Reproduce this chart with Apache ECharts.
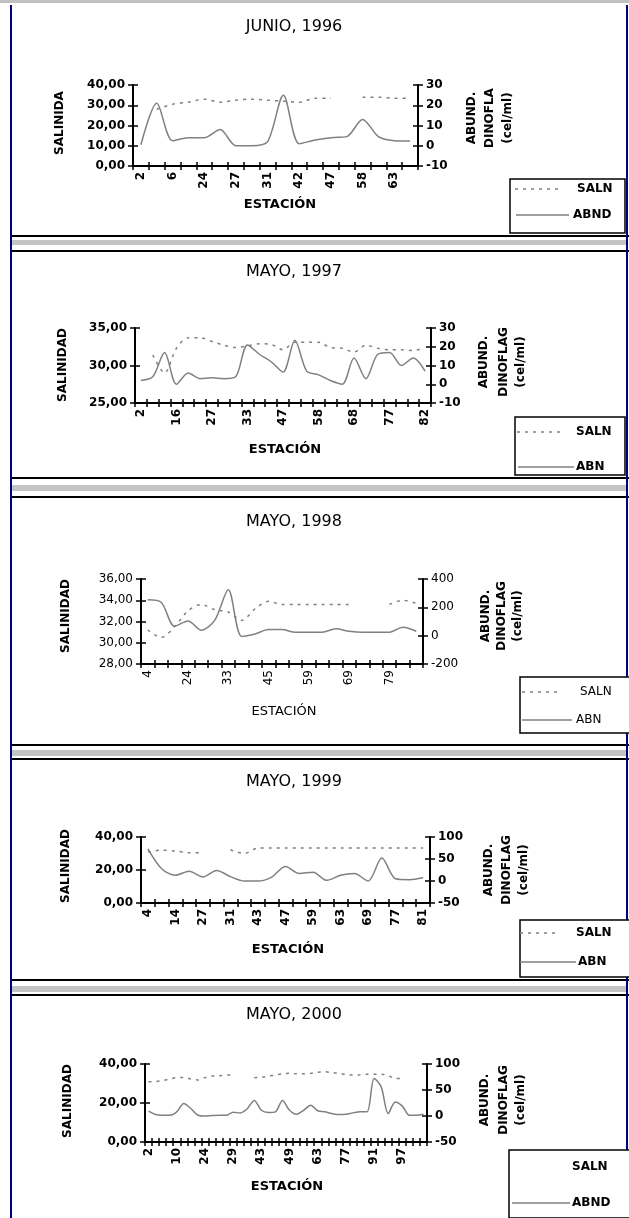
<!DOCTYPE html>
<html>
<head>
<meta charset="utf-8">
<script src="https://cdn.jsdelivr.net/npm/echarts@6/dist/echarts.min.js"></script>
<style>
html,body{margin:0;padding:0;background:#fff;}
#c{width:629px;height:1218px;}
</style>
</head>
<body>
<div id="c"></div>
<script>
var est96 = ['2','4','6','12','24','25','27','29','31','38','42','45','47','52','58','60','63','65'];
var saln96 = [null,28,30.5,31.5,33,31.5,32.5,33,32.5,32,31.5,33.4,33.4,null,34,34,33.5,33.5];
var abnd96 = [0.5,21,2.5,4,4,8,0,0,2,25,1,2.8,4,4.5,13,4.5,2.5,2.3];

var est97 = ['2','7','12','16','19','23','27','29','31','33','38','43','47','50','54','58','62','65','68','71','74','77','79','81','82'];
var saln97 = [null,31.4,29,32.3,33.7,33.7,33.2,32.7,32.4,32.6,32.9,32.8,32.1,33.1,33.1,33.1,32.4,32.3,31.8,32.7,32.3,32.1,32.1,32,32.4];
var abnd97 = [2,4,17,0,6,3,3.5,3,4,21,16,12,6.5,23.5,7,5,2,0,14,3,16,17,10,14,7];

var est98 = ['4','10','17','24','27','30','33','37','41','45','50','55','59','62','66','69','72','76','79','82','85'];
var saln98 = [31.2,30.5,31.5,33,33.6,33.1,32.9,32.1,33.2,33.9,33.6,33.6,33.6,33.6,33.6,33.6,null,null,33.6,34,33.7];
var abnd98 = [253,236,67,104,39,110,325,-5,12,43,43,24,24,24,48,31,24,24,24,60,31];

var est99 = ['4','9','14','20','27','29','31','37','43','45','47','53','59','61','63','66','69','73','77','79','81'];
var saln99 = [31,32,31.5,30.5,30.5,null,32.3,30,33.3,33.3,33.3,33.3,33.3,33.3,33.3,33.3,33.3,33.3,33.3,33.3,33.3];
var abnd99 = [73,28,13,22,9,24,10,0,0,9,33,17,20,1.5,13,17,0,52,5,3,7.5];

var est00 = ['2','4','6','8','10','14','17','20','24','25','26','27','29','33','37','40','43','45','46','47',
             '49','53','57','60','63','67','71','74','77','81','85','88','91','93','94','95','97','99','101','103'];
var saln00 = [30.9,31,31.5,32.3,33,33.1,32.3,31.8,33,33.8,34,34.3,34.3,null,null,33,33.1,33.8,34.3,35,
              35.2,35,35,35.2,35.8,36,35.6,35.2,34.6,34.3,34.5,34.8,34.8,34.8,34,32.6,32.6,null,null,null];
var abnd00 = [9.2,2.8,1.5,1.5,8,24,14.4,1.5,0,0.8,1.5,1.5,7,6,14,30,11,6.6,8,30,
              11,3.4,11,20.8,10,8,4.7,2.8,3.4,6,8,8,72,56,4.7,27,19,1.5,1.5,3.4];

var FF = '"DejaVu Sans", Verdana, sans-serif';
var GRAY = '#808080';

var panels = [
  {title:'JUNIO, 1996', ty:27, cats:est96, saln:saln96, abnd:abnd96, grid:[133,85,285,81],
   yl:[0,40,10], yr:[-10,30,10], every:2, ylab:'SALINIDA', ylx:60, ylc:123,
   rlab:['ABUND.','DINOFLA','(cel/ml)'], rx:[472,490,508], rc:118, est:[280,205],
   box:[510,179,115,54], lg:['SALN','ABND'], lgx:[577,573], lgy:[189,215], samp:[[515,562],[516,569]], bold:true},
  {title:'MAYO, 1997', ty:272, cats:est97, saln:saln97, abnd:abnd97, grid:[135,328,296,75],
   yl:[25,35,5], yr:[-10,30,10], every:3, ylab:'SALINIDAD', ylx:63, ylc:365,
   rlab:['ABUND.','DINOFLAG','(cel/ml)'], rx:[484,504,521], rc:362, est:[285,450],
   box:[515,417,110,58], lg:['SALN','ABN'], lgx:[576,576], lgy:[432,467], samp:[[517,560],[518,574]], bold:true},
  {title:'MAYO, 1998', ty:522, cats:est98, saln:saln98, abnd:abnd98, grid:[141,579,282,85],
   yl:[28,36,2], yr:[-200,400,200], every:3, ylab:'SALINIDAD', ylx:66, ylc:616,
   rlab:['ABUND.','DINOFLAG','(cel/ml)'], rx:[486,502,518], rc:616, est:[284,712],
   box:[520,677,112,56], lg:['SALN','ABN'], lgx:[580,576], lgy:[692,720], samp:[[522,560],[522,572]], bold:false},
  {title:'MAYO, 1999', ty:782, cats:est99, saln:saln99, abnd:abnd99, grid:[141,837,289,66],
   yl:[0,40,20], yr:[-50,100,50], every:2, ylab:'SALINIDAD', ylx:66, ylc:866,
   rlab:['ABUND.','DINOFLAG','(cel/ml)'], rx:[489,507,524], rc:870, est:[288,950],
   box:[520,920,112,57], lg:['SALN','ABN'], lgx:[576,578], lgy:[933,962], samp:[[520,560],[520,576]], bold:true},
  {title:'MAYO, 2000', ty:1015, cats:est00, saln:saln00, abnd:abnd00, grid:[145,1064,282,78],
   yl:[0,40,20], yr:[-50,100,50], every:4, ylab:'SALINIDAD', ylx:68, ylc:1101,
   rlab:['ABUND.','DINOFLAG','(cel/ml)'], rx:[485,504,521], rc:1100, est:[287,1187],
   box:[509,1150,122,68], lg:['SALN','ABND'], lgx:[572,572], lgy:[1167,1203], samp:[null,[512,570]], bold:true}
];

var grids = [], xAxes = [], yAxes = [], series = [], g = [];

function txt(x, y, s, size, weight, align, rot) {
  var e = {type:'text', x:x, y:y, silent:true, z:10,
    style:{text:s, fontSize:size, fontWeight:weight, fontFamily:FF, fill:'#000',
           align:align || 'center', verticalAlign:'middle'}};
  if (rot) e.rotation = Math.PI / 2;
  return e;
}
function hline(y, x1, x2, color, w) {
  return {type:'line', silent:true, z:5, shape:{x1:x1, y1:y, x2:x2, y2:y}, style:{stroke:color, lineWidth:w}};
}

panels.forEach(function (p, k) {
  var fw = p.bold ? 'bold' : 'normal';
  grids.push({left:p.grid[0], top:p.grid[1], width:p.grid[2], height:p.grid[3]});
  var tick = {color:'#000', width:1.5};
  // eje x: marcas cruzadas -> dos ejes superpuestos
  xAxes.push({gridIndex:k, type:'category', data:p.cats, boundaryGap:true, position:'bottom',
    axisLine:{show:true, onZero:false, lineStyle:{color:'#000', width:2}},
    axisTick:{show:true, interval:0, length:4, lineStyle:tick},
    axisLabel:{interval:p.every - 1, rotate:90, margin:6, color:'#000', fontSize:12, fontWeight:fw, fontFamily:FF},
    splitLine:{show:false}});
  xAxes.push({gridIndex:k, type:'category', data:p.cats, boundaryGap:true, position:'bottom',
    axisLine:{show:false, onZero:false}, axisTick:{show:true, inside:true, interval:0, length:4, lineStyle:tick},
    axisLabel:{show:false}, splitLine:{show:false}});
  function yax(pos, r, inside, fmt) {
    return {gridIndex:k, type:'value', position:pos, min:r[0], max:r[1], interval:r[2],
      axisLine:{show:!inside, onZero:false, lineStyle:{color:'#000', width:2}},
      axisTick:{show:true, inside:inside, length:5, lineStyle:tick},
      axisLabel:{show:!inside, margin:8, color:'#000', fontSize:12, fontWeight:fw, fontFamily:FF, formatter:fmt},
      splitLine:{show:false}};
  }
  var fmtL = function (v) { return v.toFixed(2).replace('.', ','); };
  var fmtR = function (v) { return String(v); };
  yAxes.push(yax('left', p.yl, false, fmtL));
  yAxes.push(yax('left', p.yl, true, fmtL));
  yAxes.push(yax('right', p.yr, false, fmtR));
  yAxes.push(yax('right', p.yr, true, fmtR));

  series.push({name:'SALN', type:'line', xAxisIndex:2 * k, yAxisIndex:4 * k, data:p.saln,
    smooth:0.3, symbol:'none', connectNulls:false, silent:true,
    lineStyle:{color:GRAY, width:1.5, type:[3, 5]}});
  series.push({name:p.lg[1], type:'line', xAxisIndex:2 * k, yAxisIndex:4 * k + 2, data:p.abnd,
    smooth:0.3, symbol:'none', silent:true, lineStyle:{color:GRAY, width:1.5}});

  // textos
  g.push(txt(294, p.ty, p.title, 16, 'normal'));
  g.push(txt(p.est[0], p.est[1], 'ESTACIÓN', 13, fw));
  g.push(txt(p.ylx, p.ylc, p.ylab, 12, 'bold', 'center', true));
  p.rlab.forEach(function (s, i) { g.push(txt(p.rx[i], p.rc, s, 12, 'bold', 'center', true)); });

  // leyenda
  var b = p.box;
  g.push({type:'rect', silent:true, z:8, shape:{x:b[0], y:b[1], width:b[2], height:b[3]},
    style:{fill:'#fff', stroke:'#000', lineWidth:1.5}});
  if (p.samp[0]) g.push({type:'line', silent:true, z:9,
    shape:{x1:p.samp[0][0], y1:p.lgy[0], x2:p.samp[0][1], y2:p.lgy[0]},
    style:{stroke:GRAY, lineWidth:1.5, lineDash:[3, 5]}});
  g.push({type:'line', silent:true, z:9,
    shape:{x1:p.samp[1][0], y1:p.lgy[1], x2:p.samp[1][1], y2:p.lgy[1]},
    style:{stroke:GRAY, lineWidth:1.5}});
  g.push(txt(p.lgx[0], p.lgy[0], p.lg[0], 12, fw, 'left'));
  g.push(txt(p.lgx[1], p.lgy[1], p.lg[1], 12, fw, 'left'));
});

// marcos y separadores
g.push({type:'rect', silent:true, z:4, shape:{x:0, y:0, width:629, height:3}, style:{fill:'#c0c0c0'}});
[[236, 240, 5, 251], [478, 485, 6, 497], [745, 750, 6, 759], [980, 986, 6, 995]].forEach(function (s) {
  g.push(hline(s[0], 11, 629, '#000', 2));
  g.push({type:'rect', silent:true, z:4, shape:{x:12, y:s[1], width:615, height:s[2]}, style:{fill:'#c4c4c4'}});
  g.push(hline(s[3], 11, 629, '#000', 2));
});
g.push({type:'line', silent:true, z:6, shape:{x1:11, y1:5, x2:11, y2:1218}, style:{stroke:'#00007f', lineWidth:2}});
g.push({type:'line', silent:true, z:6, shape:{x1:627, y1:5, x2:627, y2:1218}, style:{stroke:'#00007f', lineWidth:2}});

var chart = echarts.init(document.getElementById('c'));
chart.setOption({
  animation:false,
  backgroundColor:'#fff',
  grid:grids,
  xAxis:xAxes,
  yAxis:yAxes,
  series:series,
  graphic:{elements:g}
});
</script>
</body>
</html>
